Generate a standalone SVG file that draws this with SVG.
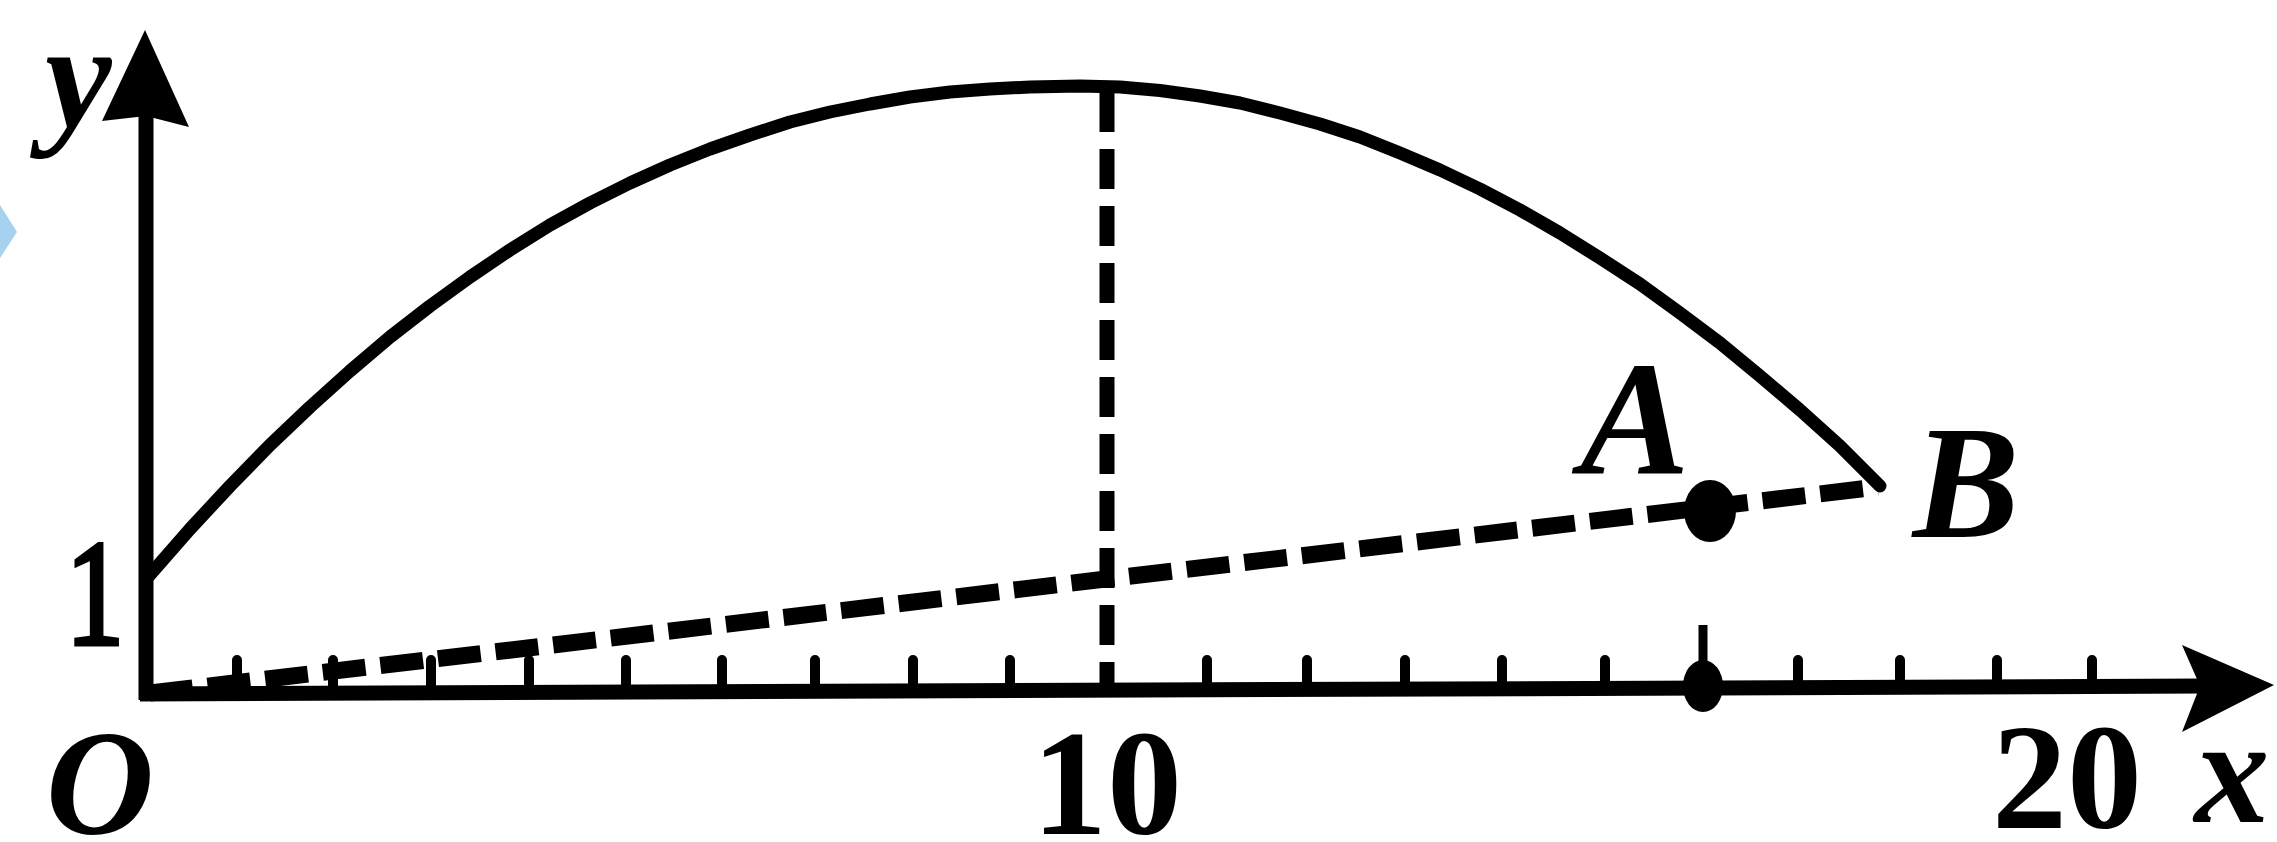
<svg xmlns="http://www.w3.org/2000/svg" width="2277" height="842" viewBox="0 0 2277 842">
<style>
.ax{stroke:#000;stroke-width:15;fill:none}
.tk{stroke:#000;stroke-width:10;stroke-linecap:round;fill:none}
.cv{stroke:#000;stroke-width:13;fill:none;stroke-linecap:round;stroke-linejoin:round}
.ds{stroke:#000;fill:none;stroke-linecap:butt}
.lb{font-family:'Liberation Serif','Times New Roman',serif;fill:#000}
.it{font-style:italic}
</style>
<rect width="2277" height="842" fill="#fff"/>
<polygon points="0,205 17,232 0,258" fill="#a6d2f0"/>
<g id="axes">
<line class="ax" x1="146" y1="700" x2="146" y2="100"/>
<polygon points="145,30 189,127 146,116 102,121" fill="#000"/>
<line class="ax" x1="140" y1="694" x2="2205" y2="686"/>
<polygon points="2274,685 2182,645 2200,686 2182,732" fill="#000"/>
</g>
<g id="ticks">
<path class="tk" d="M237,690V660M333,690V660M431,690V660M529,690V660M626,690V660M722,690V660M815,690V660M913,690V660M1010,690V660M1207,688V660M1307,688V660M1405,688V660M1502,688V660M1605,688V660M1798,688V660M1900,688V660M1997,688V660M2092,688V660"/>
<line x1="1703" y1="686" x2="1703" y2="625" stroke="#000" stroke-width="9"/>
<ellipse cx="1703" cy="686" rx="20" ry="26" fill="#000"/>
</g>
<g id="connectors">
<path class="ds" d="M1107,92V690" stroke-width="15" stroke-dasharray="40 17"/>
<path class="ds" d="M150,693L1878,487" stroke-width="17" stroke-dasharray="43 15"/>
</g>
<g id="curve">
<path class="cv" d="M148,577L190,529L230,486L270,445L310,407L350,371L390,337L430,306L470,277L510,250L550,225L590,203L630,183L670,165L710,149L750,135L790,122L830,112L870,104L910,97L950,92L990,89L1030,87L1080,86L1120,87L1160,90.5L1200,96L1240,103L1280,113L1320,124L1360,137L1400,153L1440,170L1480,189L1520,210L1560,233L1600,258L1640,284L1680,313L1720,343L1760,376L1800,410L1840,446L1880,486"/>
</g>
<g id="pointA">
<ellipse cx="1710" cy="511" rx="26" ry="31" fill="#000"/>
<text class="lb it" x="1635" y="474" text-anchor="middle" style="font-size:164px;font-weight:bold">A</text>
</g>
<g id="pointB">
<text class="lb it" x="1966" y="537" text-anchor="middle" style="font-size:160px;font-weight:bold">B</text>
</g>
<g id="labels">
<text class="lb it" x="45" y="127" style="font-size:150px;font-weight:bold">y</text>
<text class="lb" x="95" y="644" text-anchor="middle" style="font-size:150px;font-weight:normal;stroke:#000;stroke-width:5" textLength="58" lengthAdjust="spacingAndGlyphs">1</text>
<text class="lb it" x="100" y="834" text-anchor="middle" style="font-size:150px;font-weight:bold">O</text>
<text class="lb" x="1107" y="834" text-anchor="middle" style="font-size:150px;font-weight:bold">10</text>
<text class="lb" x="2067" y="828" text-anchor="middle" style="font-size:150px;font-weight:bold">20</text>
<text class="lb it" x="2232" y="822" text-anchor="middle" style="font-size:150px;font-weight:bold">x</text>
</g>
</svg>
